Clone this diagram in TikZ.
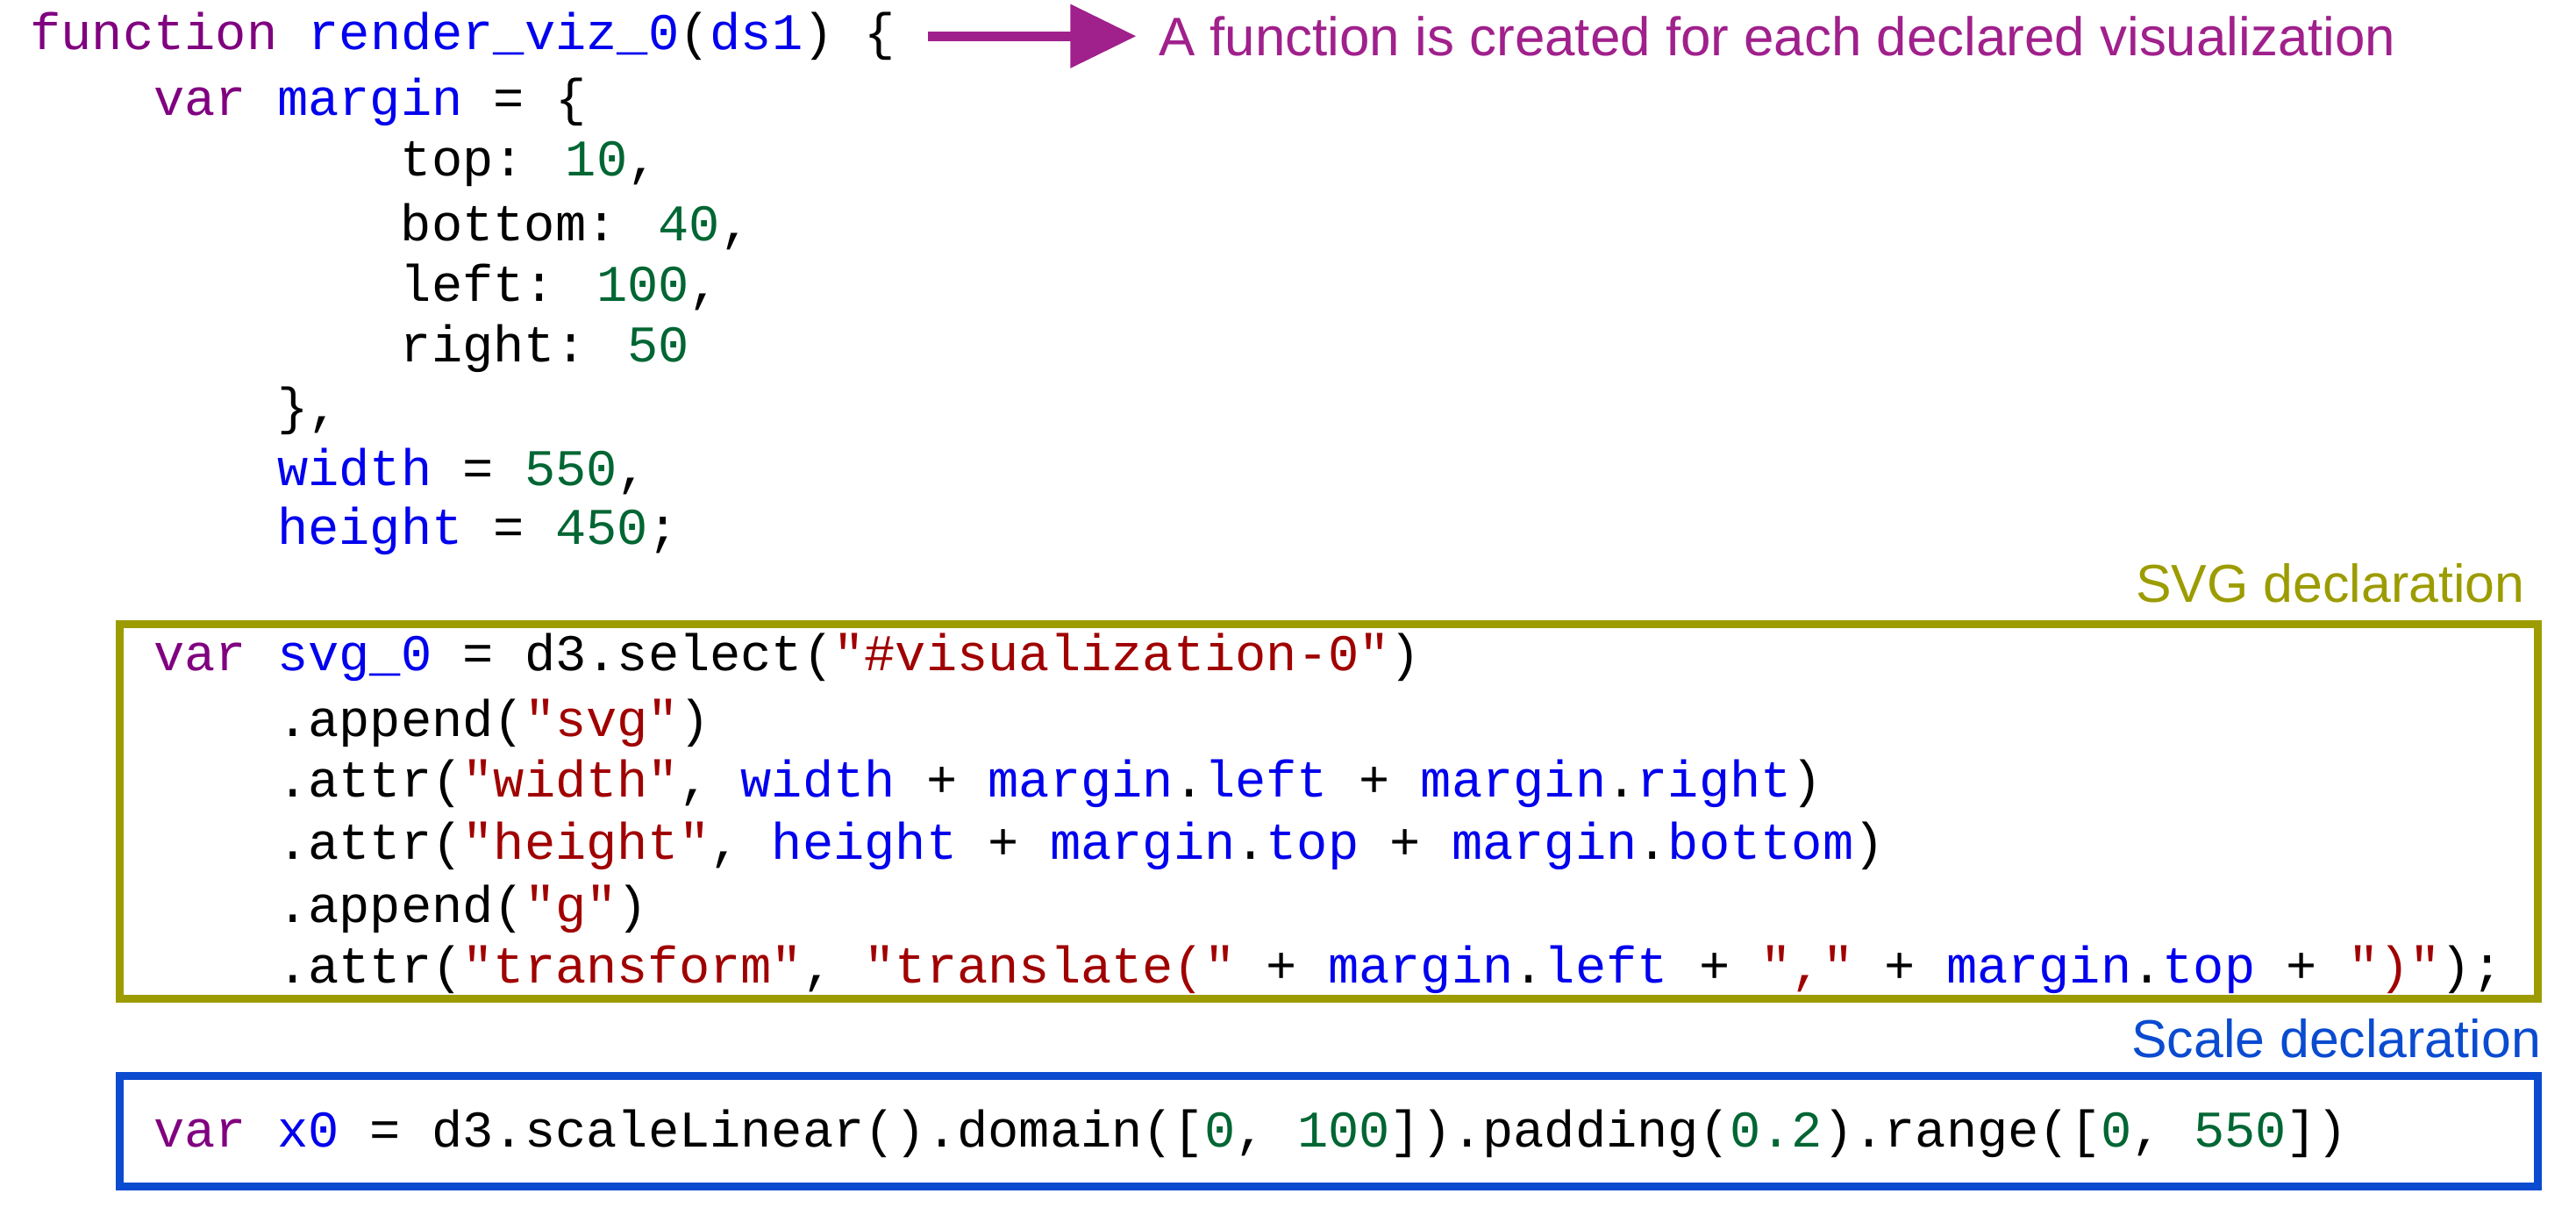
\documentclass[tikz,border=0pt]{standalone}
\usepackage{fontspec}
\setmainfont{Liberation Sans}
\newfontfamily\cmono{Liberation Mono}
\usetikzlibrary{arrows.meta}
\definecolor{kw}{HTML}{800080}
\definecolor{nm}{HTML}{0000EE}
\definecolor{nu}{HTML}{006633}
\definecolor{st}{HTML}{A00000}
\definecolor{olv}{HTML}{9C9C00}
\definecolor{bbox}{HTML}{0A4BD0}
\definecolor{note}{HTML}{A0208C}
\newcommand{\K}[1]{\textcolor{kw}{#1}}
\newcommand{\N}[1]{\textcolor{nm}{#1}}
\newcommand{\U}[1]{\textcolor{nu}{#1}}
\newcommand{\Sx}[1]{\textcolor{st}{#1}}
\begin{document}
\begin{tikzpicture}[x=0.01873cm,y=-0.01873cm,
  code/.style={anchor=west,inner sep=0pt,font=\cmono\fontsize{16.7pt}{18pt}\selectfont},
  lbl/.style={anchor=east,inner sep=0pt,font=\fontsize{17.3pt}{19pt}\selectfont}]
\useasboundingbox (0,0) rectangle (1568,739);
\def\cx#1{18+18.8*#1}
\node[code] (l1) at ({\cx{0}},22) {\K{function} \N{render\_viz\_0}(\N{ds1}) \{};
\node[code] (l2) at ({\cx{4}},62) {\K{var} \N{margin} = \{};
\node[code] (l3) at ({\cx{12}},100) {top: \U{10},};
\node[code] (l4) at ({\cx{12}},138) {bottom: \U{40},};
\node[code] (l5) at ({\cx{12}},175) {left: \U{100},};
\node[code] (l6) at ({\cx{12}},212) {right: \U{50}};
\node[code] (l7) at ({\cx{8}},250) {\},};
\node[code] (l8) at ({\cx{8}},287) {\N{width} = \U{550},};
\node[code] (l9) at ({\cx{8}},323) {\N{height} = \U{450};};
\node[code] (s1) at ({\cx{4}},400) {\K{var} \N{svg\_0} = d3.select(\Sx{"\#visualization-0"})};
\node[code] (s2) at ({\cx{8}},440) {.append(\Sx{"svg"})};
\node[code] (s3) at ({\cx{8}},477) {.attr(\Sx{"width"}, \N{width} + \N{margin}.\N{left} + \N{margin}.\N{right})};
\node[code] (s4) at ({\cx{8}},515) {.attr(\Sx{"height"}, \N{height} + \N{margin}.\N{top} + \N{margin}.\N{bottom})};
\node[code] (s5) at ({\cx{8}},553) {.append(\Sx{"g"})};
\node[code] (s6) at ({\cx{8}},590) {.attr(\Sx{"transform"}, \Sx{"translate("} + \N{margin}.\N{left} + \Sx{","} + \N{margin}.\N{top} + \Sx{")"});};
\node[code] (x1) at ({\cx{4}},690) {\K{var} \N{x0} = d3.scaleLinear().domain([\U{0}, \U{100}]).padding(\U{0.2}).range([\U{0}, \U{550}])};
\draw[olv,line width=0.09cm] (73,380) rectangle (1545,608);
\draw[bbox,line width=0.09cm] (73,655) rectangle (1545,722);
\node[lbl,text=olv] (svgl) at (1537,355) {SVG declaration};
\node[lbl,text=bbox] (scl) at (1547,632) {Scale declaration};
\node[anchor=west,inner sep=0pt,text=note,font=\fontsize{17.6pt}{19pt}\selectfont] (nt) at (705,22) {A function is created for each declared visualization};
\coordinate (a0) at (565,22);
\draw[note,line width=0.11cm,-{Triangle[length=0.75cm,width=0.7cm]}] (a0) -- ([xshift=-0.25cm]nt.west);
\end{tikzpicture}
\end{document}
